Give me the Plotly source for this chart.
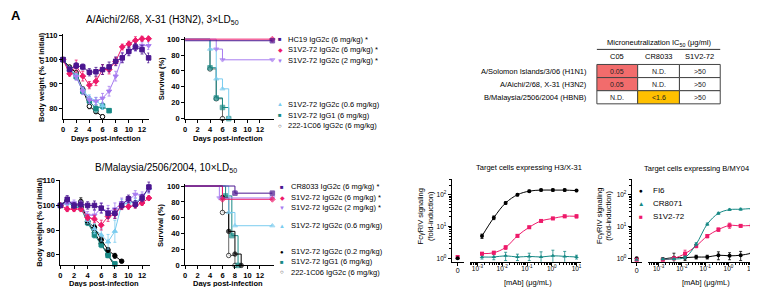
import plotly.graph_objects as go

W, H = 758, 287

# ---------------- data ----------------
days = list(range(14))

# A/Aichi/2/68, X-31 (H3N2) body weight (% of initial)
tw_hc19 = [100, 96.0, 97.5, 97.0, 94.8, 95.0, 95.9, 97.0, 99.3, 100.7, 103.4, 105.2, 104.1, 100.7]
tw_s6 = [100, 94.2, 97.3, 93.2, 89.5, 91.1, 95.9, 95.9, 99.3, 105.2, 106.4, 107.9, 108.6, 108.6]
tw_s2 = [100, 95.0, 93.0, 87.1, 83.4, 82.9, 84.1, 87.0, 93.2, 101.0, 103.5, 105.0, 105.8, 105.7]
tw_s06 = [100, 96.0, 93.5, 87.5, 84.3, 83.0, 81.0]
tw_g1 = [100, 96.0, 93.0, 87.0, 83.0, 79.8, 80.9, 79.0]
tw_c06 = [100, 96.9, 94.6, 87.8, 80.8, 78.6, 76.5]
tw_hc19_err = [0, 1.0, 1.2, 1.2, 1.5, 1.8, 2.0, 2.0, 1.8, 2.0, 1.8, 1.5, 1.8, 2.0]
tw_s6_err = [0, 1.0, 2.5, 2.0, 1.5, 1.8, 2.0, 1.8, 1.5, 1.2, 1.2, 1.5, 1.0, 1.0]
tw_s2_err = [0, 1.0, 1.5, 1.5, 1.5, 1.5, 2.0, 2.0, 2.0, 2.0, 1.5, 1.5, 1.5, 1.5]
tw_s06_err = [0, 1.0, 1.2, 1.2, 1.2, 1.5, 1.5]
tw_g1_err = [0, 1.0, 1.0, 1.2, 1.2, 1.5, 1.2, 0.8]
tw_c06_err = [0, 0.8, 1.0, 1.0, 1.0, 0.8, 0.8]

# A/Aichi survival (%): event days and survival after each event
ts_hc19_t, ts_hc19 = [0, 14], [98, 98]
ts_s6_t, ts_s6 = [0, 14], [100, 100]
ts_s2_t, ts_s2 = [0, 5, 6, 14], [100, 87.5, 74, 74]
ts_s06_t, ts_s06 = [0, 4, 5, 6, 7], [100, 87.5, 50, 37.5, 0]
ts_g1_t, ts_g1 = [0, 4, 5, 6, 7], [100, 64, 26, 14, 0]
ts_c06_t, ts_c06 = [0, 4, 5, 6], [100, 62.5, 25, 0]

# B/Malaysia/2506/2004 body weight (% of initial)
bw_cr = [100, 102.5, 100.0, 100.5, 100.0, 100.0, 98.9, 96.8, 96.8, 100.0, 102.7, 100.5, 103.0, 107.5]
bw_s6 = [100, 98.5, 98.5, 98.5, 95.0, 94.5, 92.0, 95.5, 96.5, 99.5, 99.5, 100.0, 101.0, 103.0]
bw_s2 = [100, 101.0, 101.0, 100.0, 96.0, 96.0, 99.0, 97.5, 98.5, 101.0, 102.0, 104.5, 104.0, 106.5]
bw_s06 = [100, 101.0, 100.0, 99.0, 94.0, 90.5, 88.0, 85.2, 89.5, 100.5, 101.0, 101.5, 103.0, 107.0]
bw_c02 = [100, 102.0, 100.0, 99.5, 93.5, 91.1, 86.0, 81.9, 79.5, 77.3]
bw_g1 = [100, 101.5, 99.5, 99.0, 93.0, 88.0, 84.0, 79.7, 76.2]
bw_c06 = [100, 101.5, 99.5, 101.6, 93.5, 89.0, 84.5, 80.0, 75.2]
bw_cr_err = [0, 1.5, 1.2, 1.5, 1.5, 1.8, 2.0, 2.0, 2.0, 1.5, 1.5, 1.5, 1.5, 2.0]
bw_s6_err = [0, 1.0, 1.0, 1.0, 1.2, 1.5, 2.0, 2.0, 1.8, 1.2, 1.0, 1.0, 1.0, 1.0]
bw_s2_err = [0, 1.2, 1.2, 1.5, 1.5, 2.0, 2.0, 2.5, 2.5, 2.0, 1.5, 1.5, 1.5, 1.5]
bw_s06_err = [0, 1.0, 1.0, 1.0, 1.5, 2.0, 2.5, 3.0, 4.5, 2.0, 1.5, 1.5, 1.5, 1.5]
bw_c02_err = [0, 1.0, 1.0, 1.0, 1.2, 1.2, 1.2, 1.0, 1.0, 0.5]
bw_g1_err = [0, 1.0, 1.0, 1.0, 1.2, 1.2, 1.2, 1.0, 0.8]
bw_c06_err = [0, 1.0, 1.2, 1.5, 1.2, 1.2, 1.2, 1.0, 0.8]

# B/Malaysia survival (%)
bs_cr_t, bs_cr = [0, 8, 14], [100, 91, 91]
bs_s6_t, bs_s6 = [0, 6, 14], [100, 83.3, 83.3]
bs_s2_t, bs_s2 = [0, 5.5, 14], [100, 85, 85]
bs_s06_t, bs_s06 = [0, 7, 8, 14], [100, 66.7, 50, 50]
bs_c02_t, bs_c02 = [0, 6, 7, 8, 9], [100, 85.7, 42.9, 14.3, 0]
bs_g1_t, bs_g1 = [0, 6.5, 7.5, 8.5], [100, 87.5, 37.5, 0]
bs_c06_t, bs_c06 = [0, 6, 7, 8], [100, 66.7, 12.5, 0]

# FcgRIV signaling (fold-induction) vs [mAb] (ug/mL)
fc_conc = [0.00152, 0.00457, 0.0137, 0.0412, 0.123, 0.370, 1.11, 3.33, 10]
fc1_fi6 = [5.0, 19, 55, 100, 130, 140, 140, 140, 135]
fc1_cr = [1.1, 1.1, 1.2, 1.1, 1.15, 1.1, 1.2, 1.15, 1.1]
fc1_s1 = [1.4, 1.5, 2.2, 5.1, 9.5, 15, 18, 21, 21]
fc1_fi6_err = [0.8, 2.5, 5, 8, 10, 10, 12, 12, 10]
fc1_cr_err = [0.15, 0.2, 0.35, 0.25, 0.3, 0.5, 0.6, 0.5, 0.15]
fc1_s1_err = [0.1, 0.15, 0.3, 0.5, 0.8, 1.0, 1.5, 2.0, 2.5]
fc1_zero = {"FI6": 1.0, "CR8071": 1.0, "S1V2-72": 1.1}
fc2_fi6 = [0.95, 1.05, 1.05, 1.1, 1.1, 1.25, 1.2, 1.25, 1.45]
fc2_cr = [0.95, 0.95, 1.07, 2.8, 11.9, 26, 34, 35, 37]
fc2_s1 = [0.9, 1.0, 1.4, 2.45, 5.0, 8.0, 10.8, 10.5, 10.8]
fc2_fi6_err = [0.05, 0.4, 0.2, 0.15, 0.15, 0.35, 0.3, 0.4, 0.5]
fc2_cr_err = [0.05, 0.05, 0.1, 0.3, 1.0, 2.0, 2.0, 2.5, 3.0]
fc2_s1_err = [0.05, 0.1, 0.4, 0.3, 0.6, 1.0, 2.0, 1.0, 1.5]
fc2_zero = {"FI6": 1.0, "CR8071": 0.9, "S1V2-72": 0.9}

# Microneutralization table
tbl_rows = ["A/Solomon Islands/3/06 (H1N1)", "A/Aichi/2/68, X-31 (H3N2)", "B/Malaysia/2506/2004 (HBNB)"]
tbl_cols = ["C05", "CR8033", "S1V2-72"]
tbl_vals = [["0.05", "N.D.", "&gt;50"], ["0.05", "N.D.", "&gt;50"], ["N.D.", "&lt;1.6", "&gt;50"]]

# ---------------- style ----------------
FONT = "Liberation Sans, Arial, sans-serif"
PURPLE, PINK, LPURPLE, LBLUE, TEAL, BLACK = "#4B1690", "#EE1A6A", "#A77CF0", "#7ACCEF", "#178985", "#000000"
SALMON, ORANGE = "#F26C6C", "#FFC000"
tbl_fill = [[SALMON, "white", "white"], [SALMON, "white", "white"], ["white", ORANGE, "white"]]

def px(x):
    return x / W

def py(y):
    return 1 - y / H

fig = go.Figure()

def weight_trace(vals, err, color, symbol, xa, ya, fill=None):
    fig.add_trace(go.Scatter(
        x=days[:len(vals)], y=vals, xaxis=xa, yaxis=ya, mode="lines+markers",
        line=dict(color=color, width=1),
        marker=dict(symbol=symbol, size=4.5, color=fill or color, line=dict(color=color, width=1)),
        error_y=dict(type="data", array=err, color=color, thickness=0.8, width=1.5),
        showlegend=False, cliponaxis=False))

def surv_trace(t, s, color, symbol, xa, ya, fill=None, lcolor=None):
    fig.add_trace(go.Scatter(
        x=t, y=s, xaxis=xa, yaxis=ya, mode="lines+markers", line_shape="hv",
        line=dict(color=lcolor or color, width=1),
        marker=dict(symbol=symbol, size=[0] + [4.5] * (len(t) - 1), color=fill or color,
                    line=dict(color=color, width=1)),
        showlegend=False, cliponaxis=False))

# top weight
weight_trace(tw_c06, tw_c06_err, BLACK, "circle", "x", "y", fill="white")
weight_trace(tw_g1, tw_g1_err, TEAL, "square", "x", "y")
weight_trace(tw_s06, tw_s06_err, LBLUE, "triangle-up", "x", "y")
weight_trace(tw_s2, tw_s2_err, LPURPLE, "triangle-down", "x", "y")
weight_trace(tw_s6, tw_s6_err, PINK, "diamond", "x", "y")
weight_trace(tw_hc19, tw_hc19_err, PURPLE, "square", "x", "y")

# top survival
surv_trace(ts_c06_t, ts_c06, BLACK, "circle", "x2", "y2", fill="white", lcolor="#666666")
surv_trace(ts_g1_t, ts_g1, TEAL, "square", "x2", "y2")
surv_trace(ts_s06_t, ts_s06, LBLUE, "triangle-up", "x2", "y2")
surv_trace(ts_s2_t, ts_s2, LPURPLE, "triangle-down", "x2", "y2")
surv_trace(ts_s6_t, ts_s6, PINK, "diamond", "x2", "y2")
surv_trace(ts_hc19_t, ts_hc19, PURPLE, "square", "x2", "y2")

# bottom weight
weight_trace(bw_c06, bw_c06_err, BLACK, "circle", "x3", "y3", fill="white")
weight_trace(bw_g1, bw_g1_err, TEAL, "square", "x3", "y3")
weight_trace(bw_c02, bw_c02_err, BLACK, "circle", "x3", "y3")
weight_trace(bw_s06, bw_s06_err, LBLUE, "triangle-up", "x3", "y3")
weight_trace(bw_s2, bw_s2_err, LPURPLE, "triangle-down", "x3", "y3")
weight_trace(bw_s6, bw_s6_err, PINK, "diamond", "x3", "y3")
weight_trace(bw_cr, bw_cr_err, PURPLE, "square", "x3", "y3")

# bottom survival
surv_trace(bs_c06_t, bs_c06, BLACK, "circle", "x4", "y4", fill="white", lcolor="#666666")
surv_trace(bs_g1_t, bs_g1, TEAL, "square", "x4", "y4")
surv_trace(bs_c02_t, bs_c02, BLACK, "circle", "x4", "y4")
surv_trace(bs_s06_t, bs_s06, LBLUE, "triangle-up", "x4", "y4")
surv_trace(bs_s2_t, bs_s2, LPURPLE, "triangle-down", "x4", "y4")
surv_trace(bs_s6_t, bs_s6, PINK, "diamond", "x4", "y4")
surv_trace(bs_cr_t, bs_cr, PURPLE, "square", "x4", "y4")

# FcgRIV
fc_style = {"FI6": (BLACK, "circle"), "CR8071": (TEAL, "triangle-up"), "S1V2-72": (PINK, "square")}

def fc_panel(series, zero, xz, xm, ya):
    for name, vals, err in series:
        color, sym = fc_style[name]
        fig.add_trace(go.Scatter(
            x=fc_conc, y=vals, xaxis=xm, yaxis=ya, mode="lines+markers",
            line=dict(color=color, width=1, shape="spline", smoothing=1.0),
            marker=dict(symbol=sym, size=4, color=color),
            error_y=dict(type="data", array=err, color=color, thickness=0.8, width=1.5),
            showlegend=False, cliponaxis=False))
        fig.add_trace(go.Scatter(
            x=[0], y=[zero[name]], xaxis=xz, yaxis=ya, mode="markers",
            marker=dict(symbol=sym, size=4, color=color), showlegend=False, cliponaxis=False))

fc_panel([("CR8071", fc1_cr, fc1_cr_err), ("S1V2-72", fc1_s1, fc1_s1_err), ("FI6", fc1_fi6, fc1_fi6_err)],
         fc1_zero, "x5", "x6", "y5")
fc_panel([("FI6", fc2_fi6, fc2_fi6_err), ("S1V2-72", fc2_s1, fc2_s1_err), ("CR8071", fc2_cr, fc2_cr_err)],
         fc2_zero, "x7", "x8", "y7")

# ---------------- axes ----------------
def axis(dom, rng, vertical=False, bold=True, size=7.5, **kw):
    d = dict(domain=[px(dom[0]), px(dom[1])] if not vertical else [py(dom[1]), py(dom[0])],
             range=rng, showline=True, linecolor="black", linewidth=1, ticks="outside",
             ticklen=3, tickwidth=1, tickcolor="black", showgrid=False, zeroline=False,
             tickfont=dict(family=FONT, size=size, color="black", weight="bold" if bold else "normal"))
    d.update(kw)
    return d

wt_ticks = dict(tickmode="array", tickvals=list(range(0, 13, 2)))
sv_yt = dict(tickmode="array", tickvals=list(range(0, 101, 20)))
decades_x = [-3, -2, -1, 0, 1]
log_x = dict(type="log", tickmode="array", tickvals=[10 ** e for e in decades_x],
             ticktext=["10<sup>%d</sup>" % e for e in decades_x], ticklabelstandoff=-3,
             minor=dict(tickmode="array", tickvals=[k * 10 ** e for e in range(-4, 2) for k in range(2, 10)],
                        ticks="outside", ticklen=2, tickcolor="black"))
log_y = dict(type="log", tickmode="array", tickvals=[1, 10, 100],
             ticktext=["10<sup>0</sup>", "10<sup>1</sup>", "10<sup>2</sup>"],
             minor=dict(tickmode="array", tickvals=[k * 10 ** e for e in range(0, 3) for k in range(2, 10)],
                        ticks="outside", ticklen=2, tickcolor="black"))
zero_x = dict(tickmode="array", tickvals=[0], ticktext=["0"], ticklabelstandoff=-1)

fig.update_layout(
    xaxis=axis([53.3, 140], [0, 13.1], anchor="y", **wt_ticks),
    yaxis=axis([24, 111], [75.6, 110.4], vertical=True, anchor="x", tickmode="array", tickvals=[80, 90, 100, 110]),
    xaxis2=axis([176, 265], [0, 14.2], anchor="y2", **wt_ticks),
    yaxis2=axis([26.5, 110.7], [0, 103], vertical=True, anchor="x2", **sv_yt),
    xaxis3=axis([50.7, 141], [0, 13.2], anchor="y3", **wt_ticks),
    yaxis3=axis([173.7, 261.7], [75.6, 110.4], vertical=True, anchor="x3", tickmode="array", tickvals=[80, 90, 100, 110]),
    xaxis4=axis([176, 265], [0, 14.2], anchor="y4", **wt_ticks),
    yaxis4=axis([177.6, 261.7], [0, 103], vertical=True, anchor="x4", **sv_yt),
    xaxis5=axis([444, 456], [-1, 1], bold=False, size=7, anchor="y5", **zero_x),
    xaxis6=axis([462, 574], [-3.32, 1.18], bold=False, size=6.5, anchor="y5", **log_x),
    yaxis5=axis([173, 258], [-0.11, 2.49], vertical=True, bold=False, size=6.5, anchor="x5", **log_y),
    xaxis7=axis([625, 635], [-1, 1], bold=False, size=7, anchor="y7", **zero_x),
    xaxis8=axis([641, 749], [-3.47, 1.14], bold=False, size=6.5, anchor="y7", **log_x),
    yaxis7=axis([173, 258], [-0.11, 2.49], vertical=True, bold=False, size=6.5, anchor="x7", **log_y),
)

# ---------------- annotations ----------------
anns = []
shapes = []

def ann(x, y, text, size=7.5, xanchor="center", angle=0, color="black", bold=False):
    anns.append(dict(x=px(x), y=py(y), xref="paper", yref="paper", text=("<b>%s</b>" % text) if bold else text,
                     showarrow=False, xanchor=xanchor, yanchor="middle", textangle=angle,
                     font=dict(family=FONT, size=size, color=color)))

ann(6, 5, "A", size=13, bold=True)
ann(74, 9, "A/Aichi/2/68, X-31 (H3N2), 3×LD<sub>50</sub>", size=10, xanchor="left")
ann(83, 161, "B/Malaysia/2506/2004, 10×LD<sub>50</sub>", size=10, xanchor="left")

for xc, yc in [(31.5, 67.5), (30, 217)]:
    ann(xc, yc, "Body weight (% of initial)", size=7.5, angle=-90, bold=True)
for xc, yc in [(152, 70), (152, 221)]:
    ann(xc, yc, "Survival (%)", size=7.5, angle=-90, bold=True)
for xc, yc in [(96.5, 131), (219, 131), (95, 280), (219, 280)]:
    ann(xc, yc, "Days post-infection", size=7.5, bold=True)

legend_top = [("■", PURPLE, "HC19 IgG2c (6 mg/kg) *", 29),
              ("◆", PINK, "S1V2-72 IgG2c (6 mg/kg) *", 40),
              ("▼", LPURPLE, "S1V2-72 IgG2c (2 mg/kg) *", 51),
              ("▲", LBLUE, "S1V2-72 IgG2c (0.6 mg/kg)", 96),
              ("■", TEAL, "S1V2-72 IgG1 (6 mg/kg)", 107),
              ("○", BLACK, "222-1C06 IgG2c (6 mg/kg)", 118)]
legend_bot = [("■", PURPLE, "CR8033 IgG2c (6 mg/kg) *", 181),
              ("◆", PINK, "S1V2-72 IgG2c (6 mg/kg) *", 192),
              ("▼", LPURPLE, "S1V2-72 IgG2c (2 mg/kg) *", 202.5),
              ("▲", LBLUE, "S1V2-72 IgG2c (0.6 mg/kg)", 221),
              ("●", BLACK, "S1V2-72 IgG2c (0.2 mg/kg)", 247.5),
              ("■", TEAL, "S1V2-72 IgG1 (6 mg/kg)", 258),
              ("○", BLACK, "222-1C06 IgG2c (6 mg/kg)", 268.5)]
for (g, c, t, yy) in legend_top:
    ann(271.5, yy, g, size=6, color=c)
    ann(277, yy, t, size=7.5, xanchor="left")
for (g, c, t, yy) in legend_bot:
    ann(273.5, yy, g, size=6, color=c)
    ann(280, yy, t, size=7.5, xanchor="left")

# table
col_edges = [590, 631, 673, 714]
row_edges = [55, 68.5, 82, 95.5]
ann(652, 33, "Microneutralization IC<sub>50</sub> (μg/ml)", size=7.5)
shapes.append(dict(type="line", xref="paper", yref="paper", x0=px(590), x1=px(714), y0=py(39.5), y1=py(39.5),
                   line=dict(color="#333333", width=1)))
for j, c in enumerate(tbl_cols):
    ann((col_edges[j] + col_edges[j + 1]) / 2, 47, c, size=7.5)
for i, r in enumerate(tbl_rows):
    ym = (row_edges[i] + row_edges[i + 1]) / 2
    ann(582, ym, r, size=7.5, xanchor="right")
    for j in range(3):
        shapes.append(dict(type="rect", xref="paper", yref="paper",
                           x0=px(col_edges[j]), x1=px(col_edges[j + 1]),
                           y0=py(row_edges[i + 1]), y1=py(row_edges[i]),
                           fillcolor=tbl_fill[i][j], line=dict(color="#444444", width=1), layer="below"))
        ann((col_edges[j] + col_edges[j + 1]) / 2, ym, tbl_vals[i][j], size=7, color="#222222")

# FcgRIV labels
ann(522, 161, "Target cells expressing H3/X-31", size=7.5)
ann(690, 162, "Target cells expressing B/MY04", size=7.5)
ann(417.5, 211, "FcγRIV signaling<br>(fold-induction)", size=7.5, angle=-90)
ann(597, 211, "FcγRIV signaling<br>(fold-induction)", size=7.5, angle=-90)
ann(521, 279.5, "[mAb] (μg/mL)", size=7.5)
ann(700, 279.5, "[mAb] (μg/mL)", size=7.5)
for (g, c, t, yy) in [("●", BLACK, "FI6", 185), ("▲", TEAL, "CR8071", 198.3), ("■", PINK, "S1V2-72", 211)]:
    ann(634, yy, g, size=6.5, color=c)
    ann(644, yy, t, size=8, xanchor="left")

fig.update_layout(
    width=W, height=H, margin=dict(l=0, r=0, t=0, b=0),
    paper_bgcolor="white", plot_bgcolor="white",
    font=dict(family=FONT, size=7.5, color="black"),
    showlegend=False, annotations=anns, shapes=shapes,
)

fig.write_html("out.html")
